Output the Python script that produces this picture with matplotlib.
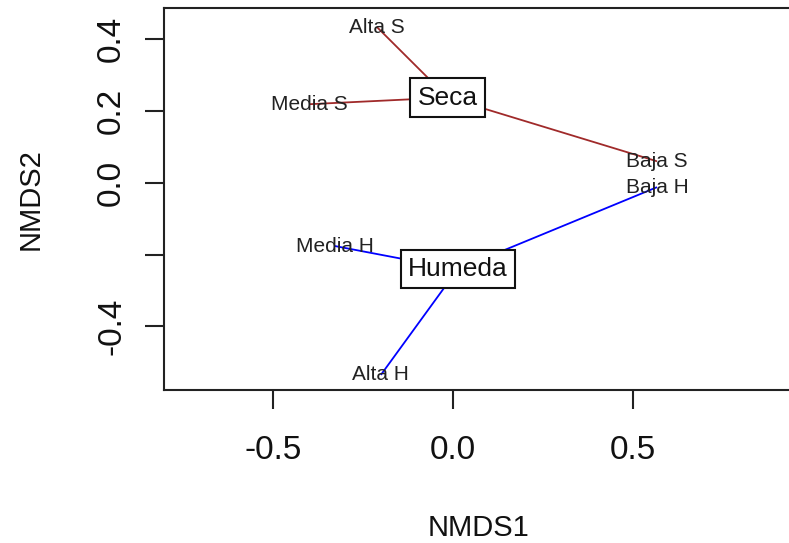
import matplotlib
matplotlib.use("Agg")
import matplotlib.pyplot as plt
import numpy as np

# ---- data ----
sites = ["Alta S", "Media S", "Baja S", "Alta H", "Media H", "Baja H"]
nmds1 = [-0.212, -0.401, 0.568, -0.201, -0.329, 0.568]
nmds2 = [0.434, 0.219, 0.060, -0.535, -0.176, -0.012]
groups = ["Seca", "Seca", "Seca", "Humeda", "Humeda", "Humeda"]
group_names = ["Seca", "Humeda"]
group_colors = ["#A02A2A", "#0000FF"]
xticks = [-0.5, 0.0, 0.5]
xticklabels = ["-0.5", "0.0", "0.5"]
yticks = [-0.4, -0.2, 0.0, 0.2, 0.4]
yticklabels = ["-0.4", "", "0.0", "0.2", "0.4"]

plt.rcParams['font.family'] = ['Liberation Sans', 'DejaVu Sans']

W, H = 789, 543
fig = plt.figure(figsize=(W / 100, H / 100), dpi=100)
left_px, right_px, top_px, bottom_px = 164.3, 805, 8, 390
ax = fig.add_axes([left_px / W, 1 - bottom_px / H,
                   (right_px - left_px) / W, (bottom_px - top_px) / H])
ax.set_xlim(-0.804, 0.98)
ax.set_ylim(-0.577, 0.487)

x = np.array(nmds1)
y = np.array(nmds2)
g = np.array(groups)

for name, col in zip(group_names, group_colors):
    m = g == name
    cx, cy = x[m].mean(), y[m].mean()
    for xi, yi in zip(x[m], y[m]):
        ax.plot([cx, xi], [cy, yi], color=col, lw=1.3, zorder=2,
                solid_capstyle='butt')
    ax.text(cx, cy, name, fontsize=19, ha='center', va='center', zorder=5,
            color='#111111',
            bbox=dict(boxstyle='square,pad=0.27', fc='white', ec='#111111', lw=1.5))

for s, xi, yi in zip(sites, x, y):
    ax.text(xi, yi, s, fontsize=15, ha='center', va='center', color='#222222', zorder=3)

for sp in ax.spines.values():
    sp.set_linewidth(1.5)
    sp.set_color('#222222')

ax.set_xticks(xticks)
ax.set_xticklabels(xticklabels)
ax.set_yticks(yticks)
ax.set_yticklabels(yticklabels, rotation=90, va='center')
ax.tick_params(axis='both', direction='out', length=13.7, width=1.5,
               color='#222222', labelsize=24, labelcolor='#111111')
ax.tick_params(axis='x', pad=19)
ax.tick_params(axis='y', pad=13)

ax.set_xlabel('NMDS1', fontsize=21, va='center', color='#111111')
ax.xaxis.set_label_coords((478 - left_px) / (right_px - left_px),
                          (bottom_px - 528) / (bottom_px - top_px))
ax.set_ylabel('NMDS2', fontsize=21, va='center', ha='center', color='#111111')
ax.yaxis.set_label_coords((31 - left_px) / (right_px - left_px), 0.5)

fig.savefig('out.png', dpi=100)
